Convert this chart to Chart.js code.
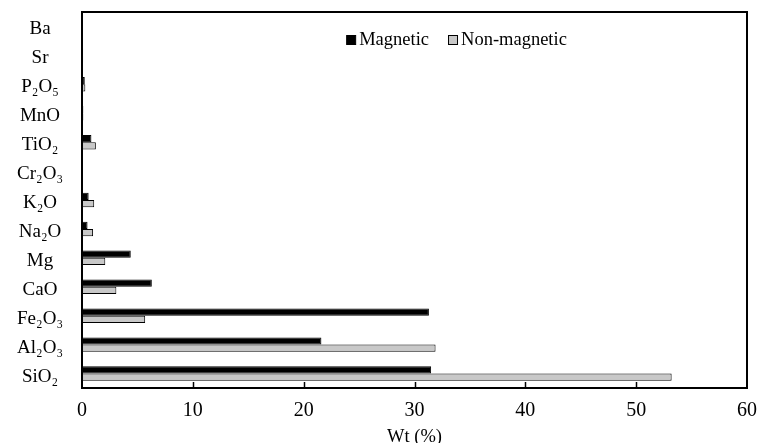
<!DOCTYPE html>
<html>
<head>
<meta charset="utf-8">
<script src="https://cdn.jsdelivr.net/npm/chart.js@4.4.1/dist/chart.umd.min.js"></script>
<style>
  html, body { margin: 0; padding: 0; background: #fff; }
  #wrap { width: 757px; height: 443px; }
</style>
</head>
<body>
<div id="wrap"><canvas id="oxideChart"></canvas></div>
<script>
// oxides, top to bottom
var categories = ['Ba', 'Sr', 'P\u2082O\u2085', 'MnO', 'TiO\u2082', 'Cr\u2082O\u2083', 'K\u2082O',
    'Na\u2082O', 'Mg', 'CaO', 'Fe\u2082O\u2083', 'Al\u2082O\u2083', 'SiO\u2082'];
var magnetic = [0.05, 0.1, 0.25, 0.12, 0.85, 0.03, 0.6, 0.5, 4.4, 6.3, 31.3, 21.6, 31.5];
var nonMagnetic = [0.05, 0.1, 0.3, 0.12, 1.25, 0.02, 1.1, 1.0, 2.1, 3.1, 5.7, 31.9, 53.2];
var xTicks = [0, 10, 20, 30, 40, 50, 60];

Chart.defaults.font.family = '"Liberation Serif", "Times New Roman", serif';
Chart.defaults.font.size = 19;
Chart.defaults.color = '#000';

// box round the plot, inward tick marks on the x axis, legend inside the plot
var framePlugin = {
    id: 'frame',
    afterDraw: function (chart) {
        var ctx = chart.ctx;
        var a = chart.chartArea;
        var xs = chart.scales.x;
        ctx.save();
        ctx.strokeStyle = '#000';
        ctx.lineWidth = 2;
        ctx.strokeRect(a.left, a.top, a.right - a.left, a.bottom - a.top);
        ctx.lineWidth = 1.5;
        xTicks.forEach(function (v) {
            if (v === xTicks[0] || v === xTicks[xTicks.length - 1]) return;
            var px = Math.round(xs.getPixelForValue(v)) + 0.5;
            ctx.beginPath();
            ctx.moveTo(px, a.bottom);
            ctx.lineTo(px, a.bottom - 6);
            ctx.stroke();
        });

        // legend
        ctx.font = '18.5px ' + Chart.defaults.font.family;
        ctx.textBaseline = 'middle';
        ctx.textAlign = 'left';
        var sets = chart.data.datasets;
        var box = 9, gap = 4, between = 19;
        var total = 0;
        sets.forEach(function (ds, i) {
            total += box + gap + ctx.measureText(ds.label).width + (i ? between : 0);
        });
        var x = (a.left + a.right) / 2 - total / 2 + 42;
        var y = a.top + 28;
        ctx.lineWidth = 1;
        sets.forEach(function (ds, i) {
            if (i) x += between;
            ctx.fillStyle = ds.backgroundColor;
            ctx.fillRect(x + 0.5, y - 4.5, box, box);
            ctx.strokeRect(x + 0.5, y - 4.5, box, box);
            x += box + gap;
            ctx.fillStyle = '#000';
            ctx.fillText(ds.label, x, y);
            x += ctx.measureText(ds.label).width;
        });
        ctx.restore();
    }
};

new Chart(document.getElementById('oxideChart'), {
    type: 'bar',
    data: {
        labels: categories,
        datasets: [{
            label: 'Magnetic',
            data: magnetic,
            backgroundColor: '#000',
            borderColor: '#000',
            borderWidth: 1,
            borderSkipped: false
        }, {
            label: 'Non-magnetic',
            data: nonMagnetic,
            backgroundColor: '#c8c8c8',
            borderColor: '#000',
            borderWidth: 1,
            borderSkipped: false
        }]
    },
    options: {
        indexAxis: 'y',
        responsive: true,
        maintainAspectRatio: false,
        animation: false,
        layout: { padding: { left: 0, right: 10, top: 12, bottom: 0 } },
        datasets: {
            bar: { categoryPercentage: 0.5, barPercentage: 1.0 }
        },
        plugins: {
            legend: { display: false },
            tooltip: { enabled: false }
        },
        scales: {
            x: {
                min: xTicks[0],
                max: xTicks[xTicks.length - 1],
                afterBuildTicks: function (scale) {
                    scale.ticks = xTicks.map(function (v) { return { value: v }; });
                },
                afterFit: function (scale) {
                    scale.height = 55;
                    scale.paddingLeft = 0;
                    scale.paddingRight = 0;
                },
                grid: { display: false, drawTicks: false },
                border: { display: false },
                ticks: { padding: 11, maxRotation: 0, font: { size: 20 } },
                title: {
                    display: true,
                    text: 'Wt (%)',
                    font: { size: 18.5, lineHeight: 1 },
                    padding: { top: 0, bottom: -3 }
                }
            },
            y: {
                afterFit: function (scale) {
                    scale.width = 82;
                    scale.paddingTop = 0;
                    scale.paddingBottom = 0;
                },
                grid: { display: false, drawTicks: false },
                border: { display: false },
                ticks: { crossAlign: 'center', padding: 19, labelOffset: 3, autoSkip: false }
            }
        }
    },
    plugins: [framePlugin]
});
</script>
</body>
</html>
